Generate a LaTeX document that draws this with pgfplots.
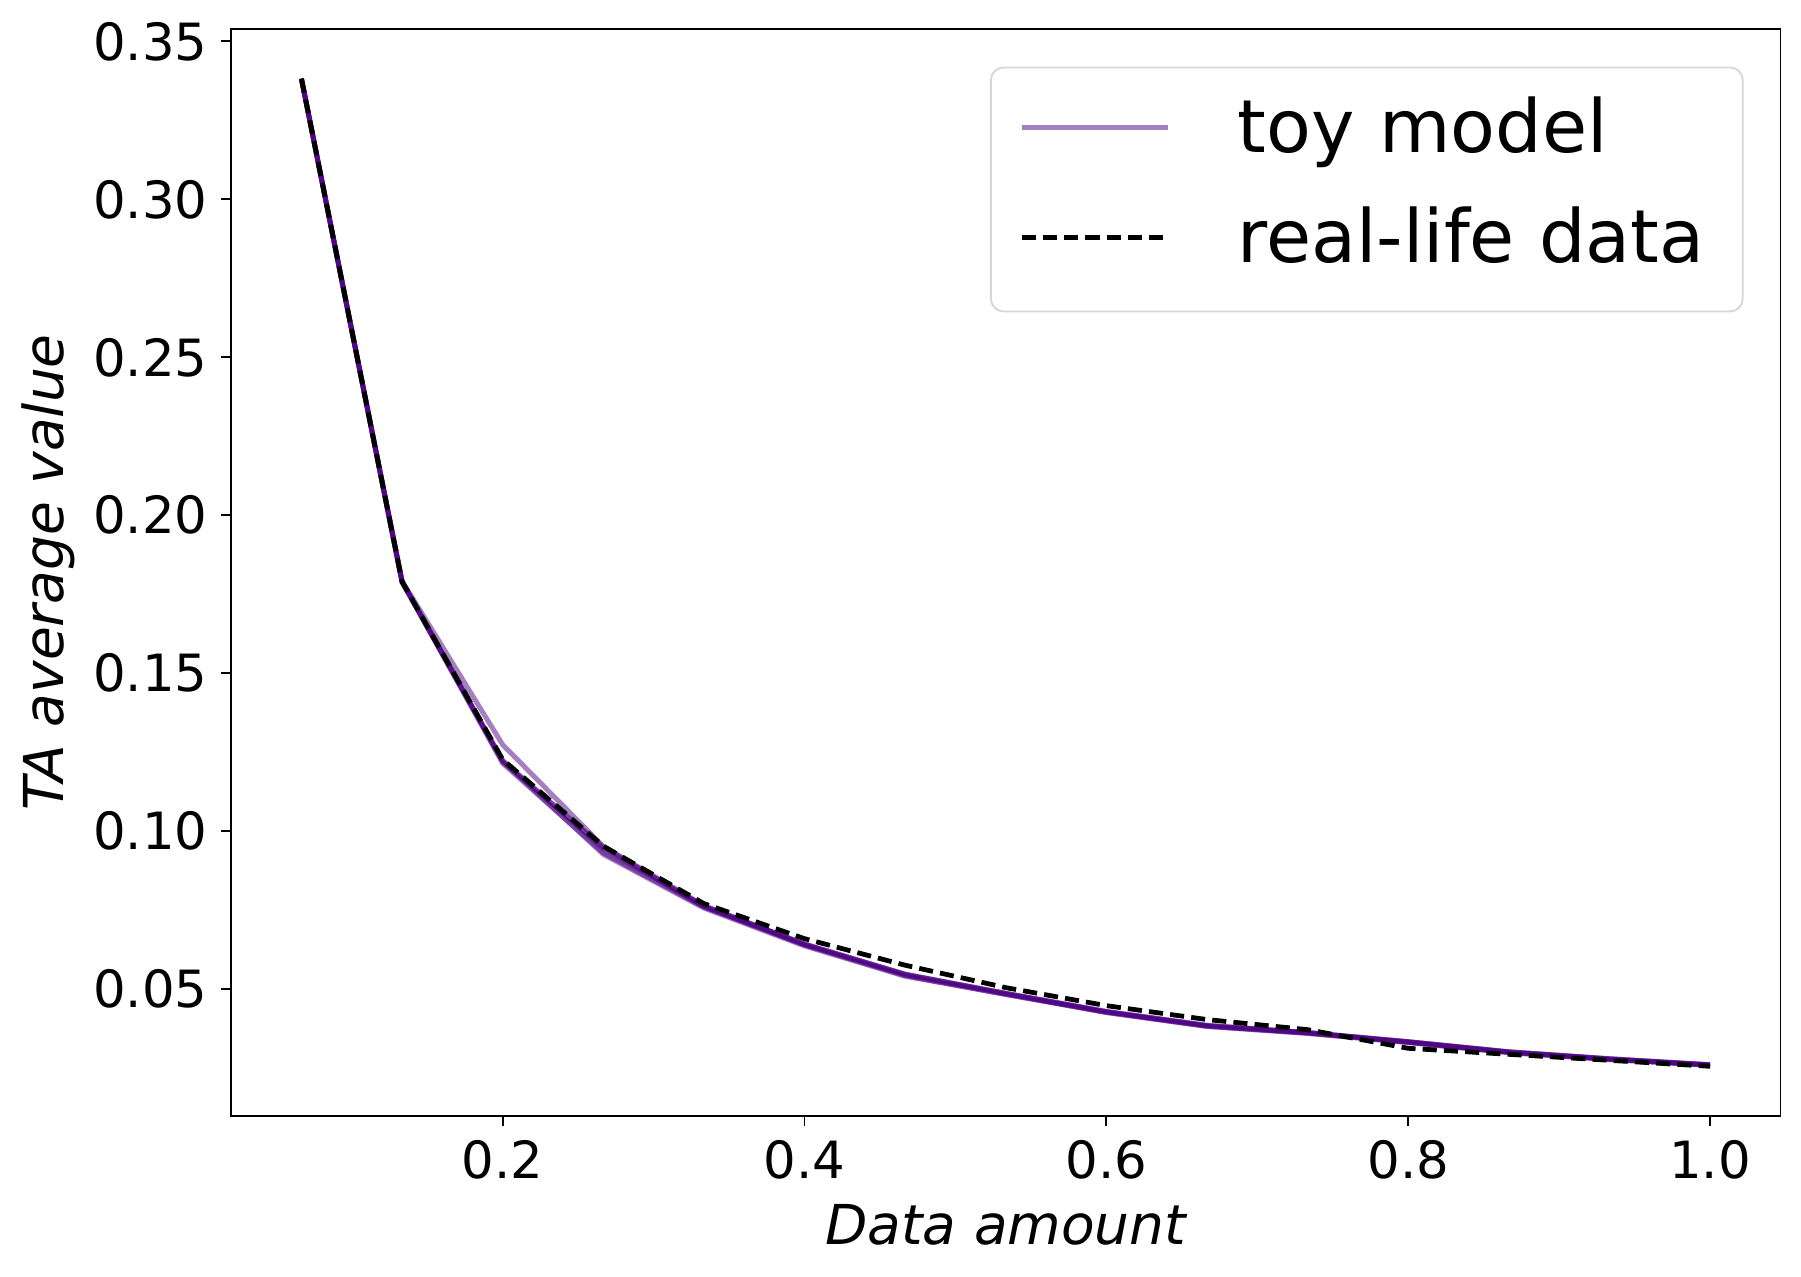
\documentclass[border=0pt]{standalone}
\usepackage{fontspec}
\setmainfont{DejaVu Sans}
\usepackage{pgfplots}
\usepackage{pgfplotstable}
\pgfplotsset{compat=1.18}
\definecolor{toy}{RGB}{75,0,130}
\definecolor{legedge}{RGB}{214,214,214}

\pgfplotstableread{
x        r1     r2     r3     r4     r5     real
0.066667 0.3382 0.3382 0.3382 0.3382 0.3382 0.3382
0.133333 0.1790 0.1792 0.1788 0.1790 0.1791 0.1790
0.200000 0.1220 0.1274 0.1222 0.1215 0.1224 0.1227
0.266667 0.0950 0.0952 0.0927 0.0932 0.0945 0.0953
0.333333 0.0762 0.0765 0.0757 0.0760 0.0763 0.0771
0.400000 0.0641 0.0643 0.0637 0.0640 0.0643 0.0660
0.466667 0.0546 0.0548 0.0541 0.0543 0.0547 0.0576
0.533333 0.0486 0.0487 0.0484 0.0483 0.0487 0.0505
0.600000 0.0428 0.0429 0.0426 0.0427 0.0430 0.0448
0.666667 0.0384 0.0385 0.0382 0.0383 0.0386 0.0404
0.733333 0.0362 0.0363 0.0360 0.0361 0.0363 0.0372
0.800000 0.0333 0.0334 0.0331 0.0332 0.0334 0.0313
0.866667 0.0301 0.0302 0.0299 0.0300 0.0302 0.0294
0.933333 0.0279 0.0280 0.0277 0.0278 0.0280 0.0275
1.000000 0.0260 0.0261 0.0259 0.0260 0.0261 0.0256
}\datatable

\begin{document}
\begin{tikzpicture}
\path[use as bounding box] (-126.0pt,-87.44pt) rectangle (856.36pt,608.56pt);
\begin{axis}[
  at={(0pt,0pt)}, anchor=south west,
  scale only axis, width=845.18pt, height=592.58pt,
  xmin=0.02, xmax=1.046667, ymin=0.00997, ymax=0.35383,
  xtick={0.2,0.4,0.6,0.8,1.0}, xticklabels={0.2,0.4,0.6,0.8,1.0},
  ytick={0.05,0.10,0.15,0.20,0.25,0.30,0.35},
  yticklabels={0.05,0.10,0.15,0.20,0.25,0.30,0.35},
  tick align=outside, tick pos=left,
  major tick length=5.5pt,
  tick style={black, line width=1pt},
  axis line style={line width=1pt},
  tick label style={font=\fontsize{28}{34}\selectfont, inner sep=0pt},
  xticklabel style={yshift=-7.8pt},
  yticklabel style={xshift=-7.1pt},
  xlabel={Data amount},
  ylabel={TA average value},
  label style={font=\fontsize{30}{36}\selectfont\itshape, inner sep=0pt},
  xlabel style={at={(axis description cs:0.5,-0.11812)}, anchor=base},
  ylabel style={at={(axis description cs:-0.10838,0.5)}, anchor=base},
  legend style={
    at={(axis description cs:1,1)}, anchor=north east,
    xshift=-20.1pt, yshift=-20.3pt,
    draw=legedge, line width=1pt,
    fill=white, fill opacity=0.8, text opacity=1,
    rounded corners=7pt,
    inner xsep=15.4pt, inner ysep=15pt,
    row sep=16.9pt, column sep=36.6pt,
    font=\fontsize{40}{48}\selectfont,
    cells={anchor=base west},
    nodes={inner sep=0pt, anchor=base west, text height=31.6pt, text depth=11.5pt, text width=260pt},
  },
  legend image code/.code={\draw[#1] (0pt,13.8pt) -- (80pt,13.8pt);},
  toyline/.style={toy, draw opacity=0.5, line width=2.7pt, line join=round, mark=none},
]
\addplot[toyline] table[x=x,y=r1] {\datatable};
\addlegendentry{toy model}
\addplot[toyline, forget plot] table[x=x,y=r2] {\datatable};
\addplot[toyline, forget plot] table[x=x,y=r3] {\datatable};
\addplot[toyline, forget plot] table[x=x,y=r4] {\datatable};
\addplot[toyline, forget plot] table[x=x,y=r5] {\datatable};
\addplot[black, line width=2.6pt, dash pattern=on 7.7pt off 3.9pt, mark=none] table[x=x,y=real] {\datatable};
\addlegendentry{real-life data}
\end{axis}
\end{tikzpicture}
\end{document}
